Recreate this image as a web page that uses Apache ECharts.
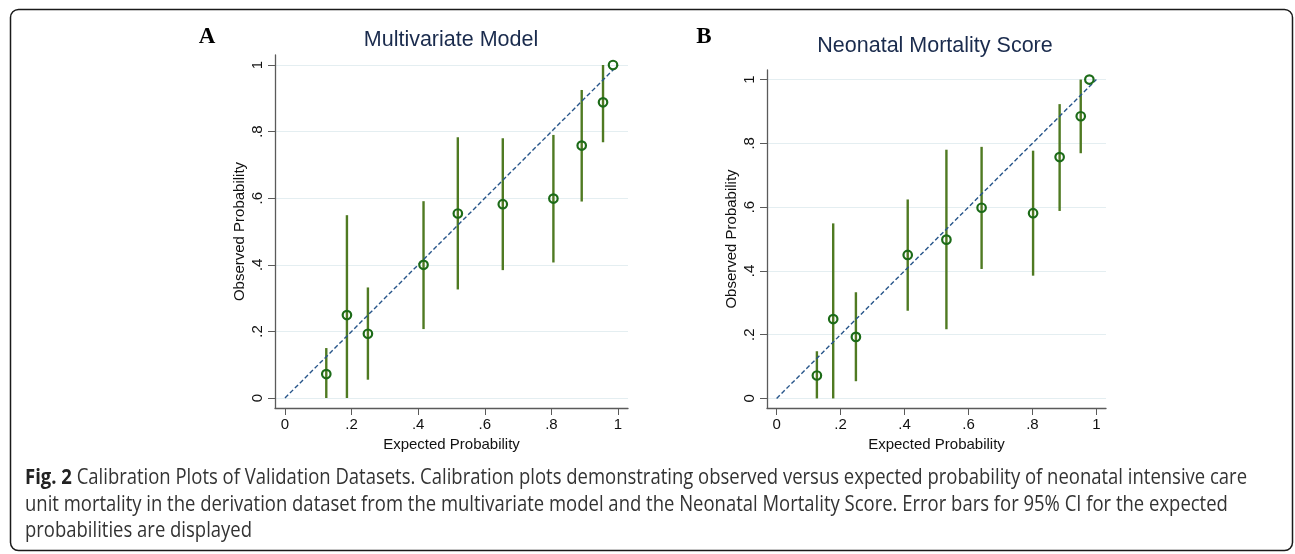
<!DOCTYPE html>
<html><head><meta charset="utf-8">
<script src="https://cdn.jsdelivr.net/npm/echarts@6/dist/echarts.min.js"></script>
<style>html,body{margin:0;padding:0;background:#fff}#c{width:1295px;height:554px}</style>
</head><body><div id="c"></div>
<script>
// ---- data ----
const tickValues = [0, 0.2, 0.4, 0.6, 0.8, 1];
const tickLabels = ['0', '.2', '.4', '.6', '.8', '1'];

const panelTitles = ['Multivariate Model', 'Neonatal Mortality Score'];
const panelLetters = ['A', 'B'];
const xName = 'Expected Probability';
const yName = 'Observed Probability';

const mvExpected = [0.124, 0.186, 0.249, 0.416, 0.519, 0.654, 0.806, 0.891, 0.955, 0.985];
const mvObserved = [0.072, 0.249, 0.193, 0.400, 0.554, 0.582, 0.599, 0.758, 0.888, 1.000];
const mvLower    = [0.000, 0.000, 0.055, 0.207, 0.326, 0.384, 0.407, 0.590, 0.768, 1.000];
const mvUpper    = [0.150, 0.549, 0.332, 0.591, 0.783, 0.780, 0.790, 0.925, 1.000, 1.000];

const nmsExpected = [0.126, 0.177, 0.248, 0.410, 0.531, 0.641, 0.802, 0.885, 0.951, 0.978];
const nmsObserved = [0.072, 0.249, 0.193, 0.450, 0.498, 0.598, 0.581, 0.757, 0.885, 1.000];
const nmsLower    = [0.000, 0.000, 0.054, 0.275, 0.217, 0.406, 0.385, 0.588, 0.769, 1.000];
const nmsUpper    = [0.148, 0.549, 0.333, 0.624, 0.780, 0.789, 0.777, 0.923, 1.000, 1.000];

const refLine = [[0, 0], [1, 1]];

const captionBold = 'Fig. 2';
const captionLines = [
  ' Calibration Plots of Validation Datasets. Calibration plots demonstrating observed versus expected probability of neonatal intensive care',
  'unit mortality in the derivation dataset from the multivariate model and the Neonatal Mortality Score. Error bars for 95% CI for the expected',
  'probabilities are displayed'
];

// ---- styling ----
const FONT = 'Liberation Sans, Arial, Helvetica, sans-serif';
const AXIS_COLOR = '#5a5a5a';
const BAR_COLOR = '#4f7a22';
const MARK_COLOR = '#1c6b18';
const LINE_COLOR = '#27558a';
const GRID_COLOR = '#e4eef1';

const fmt = v => {
  const i = tickValues.findIndex(t => Math.abs(t - v) < 1e-6);
  return i >= 0 ? tickLabels[i] : '';
};

function xAxisFor(gi) {
  return {
    type: 'value', gridIndex: gi, min: -0.03, max: 1.03,
    name: xName, nameLocation: 'middle', nameGap: 27,
    nameTextStyle: { fontFamily: FONT, fontSize: 15, color: '#111' },
    axisLine: { show: true, onZero: false, lineStyle: { color: AXIS_COLOR, width: 1.3 } },
    axisTick: { show: true, length: 7, customValues: tickValues, lineStyle: { color: AXIS_COLOR, width: 1 } },
    axisLabel: { customValues: tickValues, formatter: fmt, fontFamily: FONT, fontSize: 15, color: '#111', margin: 9 },
    splitLine: { show: false }
  };
}
function yAxisFor(gi) {
  return {
    type: 'value', gridIndex: gi, min: -0.03, max: 1.03,
    name: yName, nameLocation: 'middle', nameGap: 28,
    nameTextStyle: { fontFamily: FONT, fontSize: 15, color: '#111' },
    axisLine: { show: true, onZero: false, lineStyle: { color: AXIS_COLOR, width: 1.3 } },
    axisTick: { show: true, length: 7, customValues: tickValues, lineStyle: { color: AXIS_COLOR, width: 1 } },
    axisLabel: { customValues: tickValues, formatter: fmt, fontFamily: FONT, fontSize: 15, color: '#111', margin: 10, rotate: 90 },
    splitLine: { show: true, lineStyle: { color: GRID_COLOR, width: 1 } }
  };
}

function panelSeries(gi, ex, ob, lo, hi) {
  return [
    {
      type: 'custom', xAxisIndex: gi, yAxisIndex: gi, z: 2,
      data: ex.map((x, i) => [x, lo[i], hi[i]]),
      renderItem: (params, api) => {
        const p1 = api.coord([api.value(0), api.value(1)]);
        const p2 = api.coord([api.value(0), api.value(2)]);
        return { type: 'line', shape: { x1: p1[0], y1: p1[1], x2: p2[0], y2: p2[1] },
                 style: { stroke: BAR_COLOR, lineWidth: 2.4 } };
      }
    },
    {
      type: 'line', xAxisIndex: gi, yAxisIndex: gi, z: 3, data: refLine,
      symbol: 'none', silent: true,
      lineStyle: { color: LINE_COLOR, width: 1.4, type: [4.5, 2.5] }
    },
    {
      type: 'scatter', xAxisIndex: gi, yAxisIndex: gi, z: 4,
      data: ex.map((x, i) => [x, ob[i]]),
      symbol: 'circle', symbolSize: 8.5,
      itemStyle: { color: 'rgba(255,255,255,0)', borderColor: MARK_COLOR, borderWidth: 2.2, opacity: 1 }
    }
  ];
}

const chart = echarts.init(document.getElementById('c'), null, { renderer: 'canvas' });

// caption width fitting
const ctx = document.createElement('canvas').getContext('2d');
const CAP_SIZE = 21;
ctx.font = 'bold ' + CAP_SIZE + 'px "Open Sans"';
let w1 = ctx.measureText(captionBold).width;
ctx.font = CAP_SIZE + 'px "Open Sans"';
w1 += ctx.measureText(captionLines[0]).width;
const capScale = 1222 / w1;

chart.setOption({
  animation: false,
  backgroundColor: '#fff',
  grid: [
    { left: 275, top: 55, width: 353, height: 353 },
    { left: 767, top: 70, width: 339, height: 338 }
  ],
  xAxis: [xAxisFor(0), xAxisFor(1)],
  yAxis: [yAxisFor(0), yAxisFor(1)],
  series: [].concat(
    panelSeries(0, mvExpected, mvObserved, mvLower, mvUpper),
    panelSeries(1, nmsExpected, nmsObserved, nmsLower, nmsUpper)
  ),
  graphic: [
    { type: 'rect', shape: { x: 10.5, y: 9.5, width: 1282, height: 541, r: 8 },
      style: { fill: 'none', stroke: '#1a1a1a', lineWidth: 1.5 }, silent: true },
    { type: 'text', x: 207, y: 37, style: { text: panelLetters[0], font: 'bold 23px "Liberation Serif", "Times New Roman", serif', fill: '#000', align: 'center', verticalAlign: 'middle' } },
    { type: 'text', x: 704, y: 37, style: { text: panelLetters[1], font: 'bold 23px "Liberation Serif", "Times New Roman", serif', fill: '#000', align: 'center', verticalAlign: 'middle' } },
    { type: 'text', x: 451, y: 40, style: { text: panelTitles[0], font: '21.5px ' + FONT, fill: '#1a2b4d', align: 'center', verticalAlign: 'middle' } },
    { type: 'text', x: 935, y: 46, style: { text: panelTitles[1], font: '21.5px ' + FONT, fill: '#1a2b4d', align: 'center', verticalAlign: 'middle' } },
    { type: 'group', x: 25, y: 0, scaleX: capScale, children: [
      { type: 'text', x: 0, y: 478, style: { text: '{b|' + captionBold + '}{r|' + captionLines[0] + '}', verticalAlign: 'middle',
          rich: { b: { font: 'bold ' + CAP_SIZE + 'px "Open Sans"', fill: '#222' }, r: { font: CAP_SIZE + 'px "Open Sans"', fill: '#333' } } } },
      { type: 'text', x: 0, y: 505, style: { text: captionLines[1], font: CAP_SIZE + 'px "Open Sans"', fill: '#333', verticalAlign: 'middle' } },
      { type: 'text', x: 0, y: 531.5, style: { text: captionLines[2], font: CAP_SIZE + 'px "Open Sans"', fill: '#333', verticalAlign: 'middle' } }
    ] }
  ]
});
</script></body></html>
